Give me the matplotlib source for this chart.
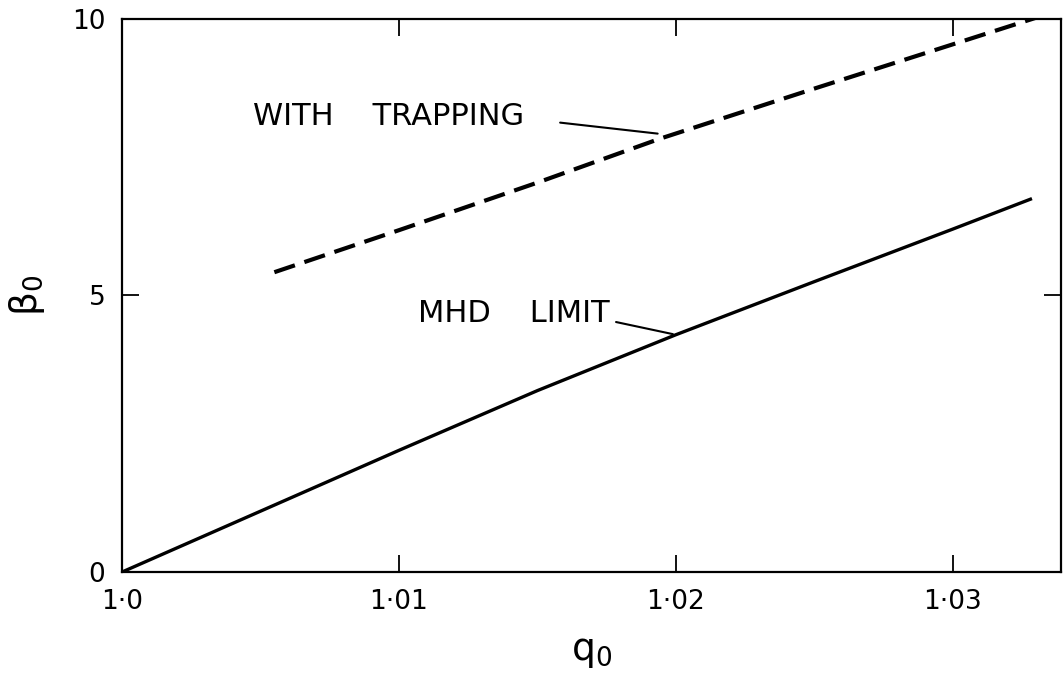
import matplotlib.pyplot as plt
from matplotlib.ticker import FixedLocator

# MHD limit (solid) y curva con atrapamiento (discontinua)
q_mhd = [1.0, 1.005, 1.010, 1.015, 1.020, 1.025, 1.030, 1.0328]
beta_mhd = [0.0, 1.10, 2.20, 3.28, 4.29, 5.25, 6.20, 6.74]

q_trap = [1.0055, 1.010, 1.015, 1.0194, 1.025, 1.0330]
beta_trap = [5.42, 6.18, 7.04, 7.83, 8.74, 10.02]

xticks = [1.0, 1.01, 1.02, 1.03]
xtick_labels = ['1·0', '1·01', '1·02', '1·03']
yticks = [0, 5, 10]
ytick_labels = ['0', '5', '10']

plt.rcParams['font.family'] = ['DejaVu Sans']
plt.rcParams['mathtext.fontset'] = 'dejavusans'

fig = plt.figure(figsize=(10.63, 6.74), dpi=100)
ax = fig.add_axes([0.1148, 0.1513, 0.8832, 0.8207])

ax.plot(q_mhd, beta_mhd, color='black', lw=2.4)
ax.plot(q_trap, beta_trap, color='black', lw=3.0, dashes=(5.2, 2.4))

ax.set_xlim(1.0, 1.0339)
ax.set_ylim(0, 10)

ax.xaxis.set_major_locator(FixedLocator(xticks))
ax.set_xticklabels(xtick_labels)
ax.yaxis.set_major_locator(FixedLocator(yticks))
ax.set_yticklabels(ytick_labels)

ax.tick_params(direction='in', length=12, width=1.3, top=True, right=True,
               labelsize=19)
ax.tick_params(axis='x', pad=12)
ax.tick_params(axis='y', pad=12)
for s in ax.spines.values():
    s.set_linewidth(1.6)

ax.set_xlabel(r'$\mathregular{q_0}$', fontsize=27, labelpad=14)
ax.set_ylabel(r'$\mathregular{\beta_0}$', fontsize=27, labelpad=18)

# etiquetas con lineas guia
ax.text(1.00473, 8.24, 'WITH    TRAPPING', fontsize=22, ha='left', va='center')
ax.annotate('', xy=(1.01944, 7.92), xytext=(1.01572, 8.13),
            arrowprops=dict(arrowstyle='-', color='black', lw=1.5))

ax.text(1.0107, 4.67, 'MHD    LIMIT', fontsize=22, ha='left', va='center')
ax.annotate('', xy=(1.01999, 4.29), xytext=(1.01774, 4.53),
            arrowprops=dict(arrowstyle='-', color='black', lw=1.5))

fig.savefig('out.png', dpi=100)
